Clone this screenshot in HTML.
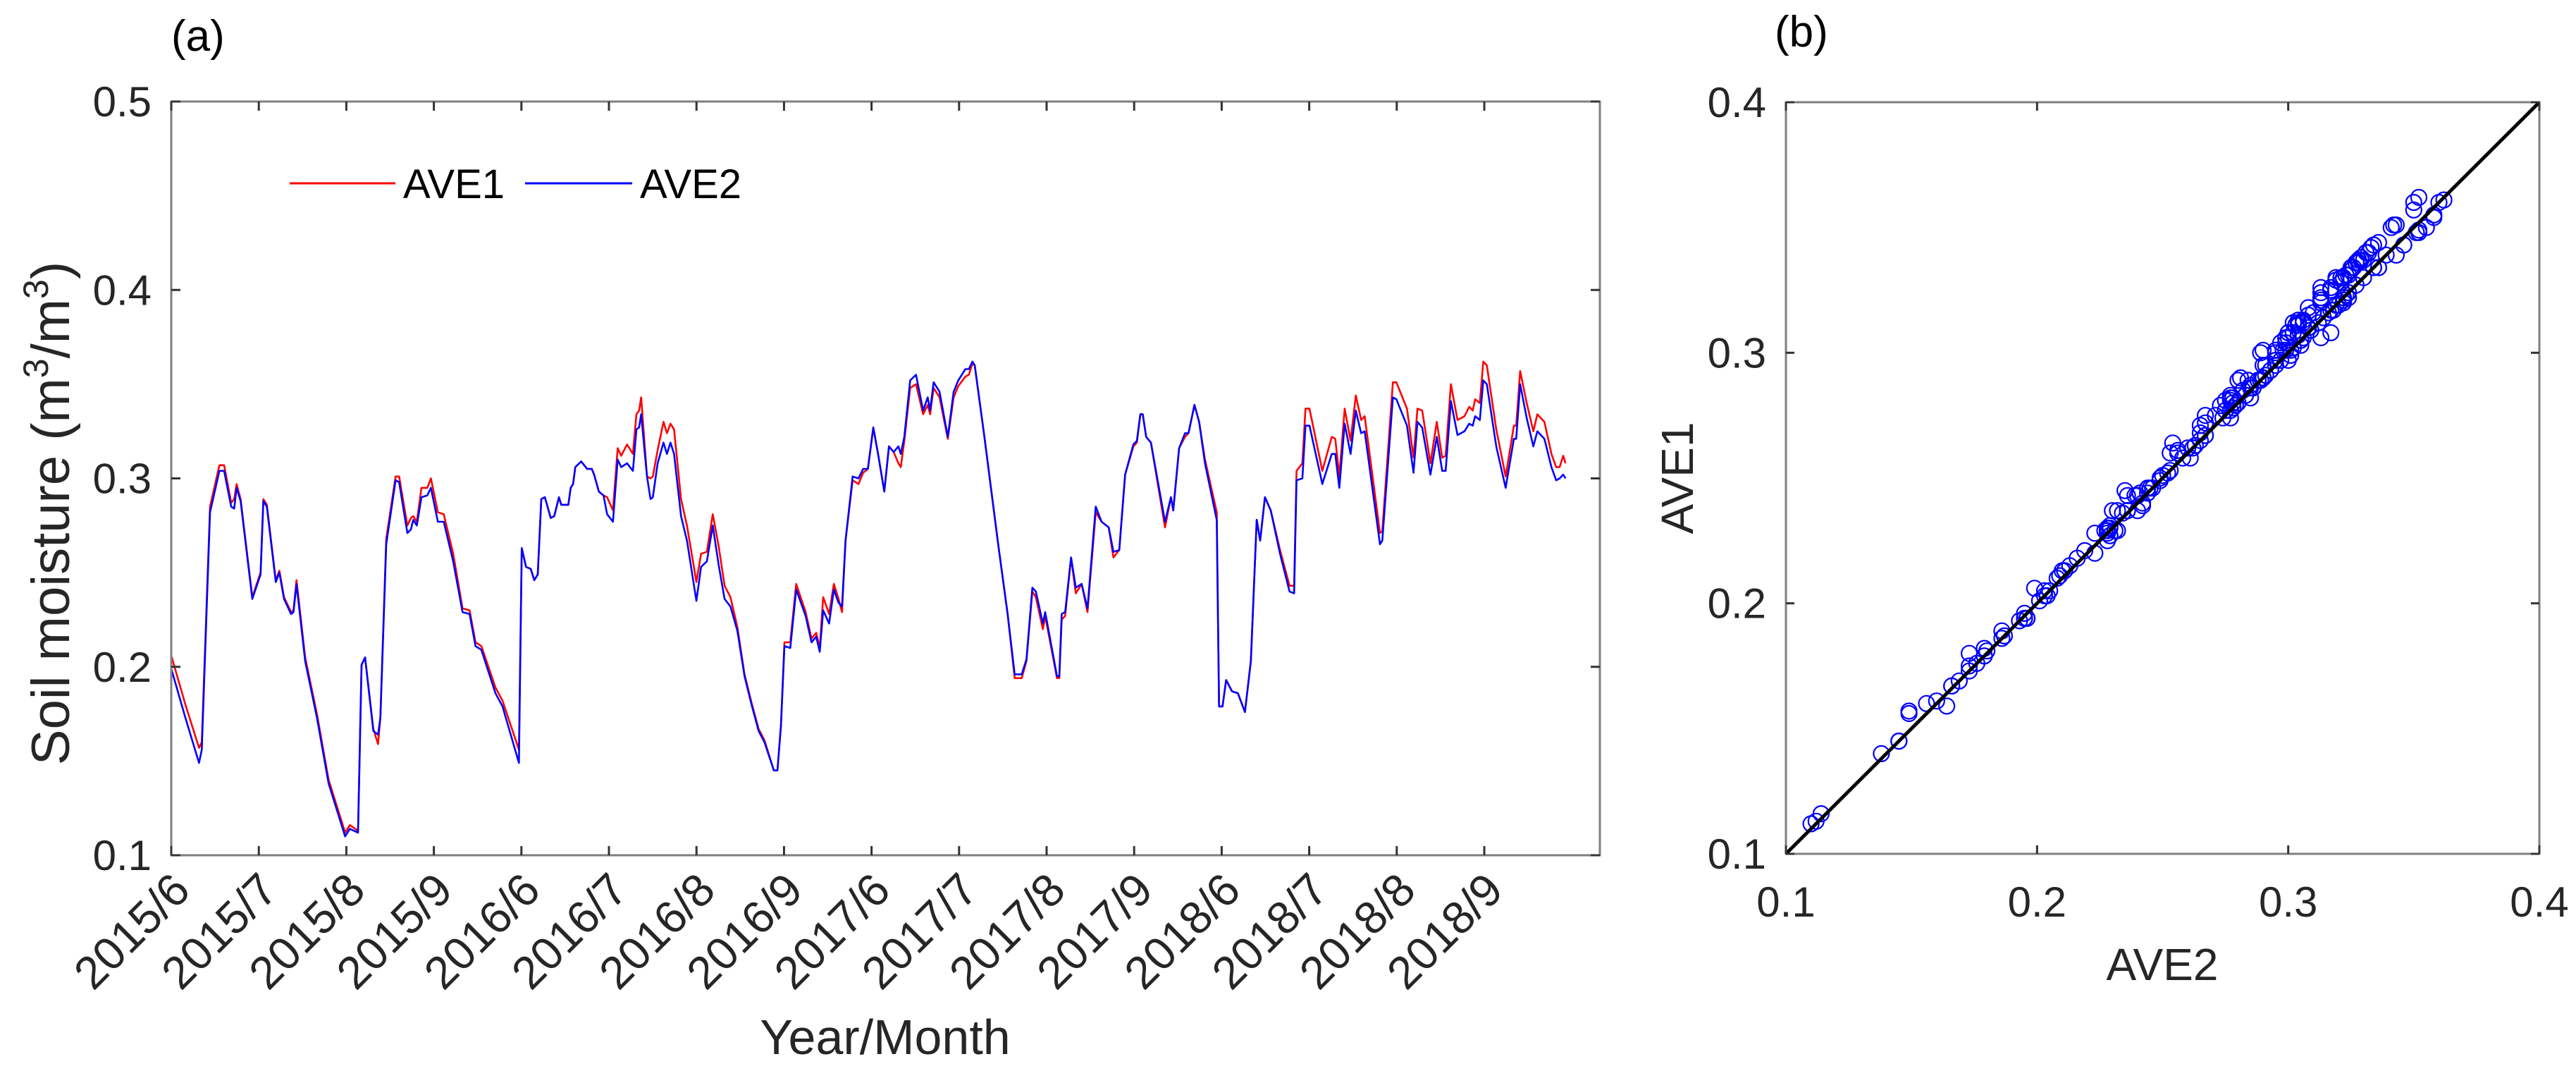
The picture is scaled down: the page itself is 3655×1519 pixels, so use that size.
<!DOCTYPE html>
<html><head><meta charset="utf-8"><style>
html,body{margin:0;padding:0;background:#fff;}
svg{display:block;font-family:"Liberation Sans",Arial,sans-serif;}
</style></head><body>
<svg id="fig" width="3655" height="1519" viewBox="0 0 3655 1519" xmlns="http://www.w3.org/2000/svg">
<rect x="0" y="0" width="3655" height="1519" fill="#fff"/>
<text x="243" y="72" font-size="62" fill="#000">(a)</text>
<text x="2518" y="66" font-size="62" fill="#000">(b)</text>
<g id="pa"></g>
<g id="pb"></g>
</svg>
<script>
const monthLabels = ["2015/6","2015/7","2015/8","2015/9","2016/6","2016/7","2016/8","2016/9","2017/6","2017/7","2017/8","2017/9","2018/6","2018/7","2018/8","2018/9"];
const yTicksA = [0.1,0.2,0.3,0.4,0.5];
const ticksB = [0.1,0.2,0.3,0.4];
const t = [0.000,0.161,0.317,0.349,0.443,0.550,0.604,0.684,0.719,0.746,0.792,0.926,1.020,1.052,1.092,1.194,1.235,1.288,1.369,1.396,1.431,1.530,1.664,1.798,1.986,2.040,2.134,2.174,2.214,2.308,2.362,2.389,2.456,2.563,2.603,2.697,2.738,2.764,2.805,2.858,2.925,2.966,3.046,3.113,3.221,3.328,3.408,3.476,3.543,3.704,3.784,3.972,4.004,4.053,4.106,4.147,
4.187,4.227,4.268,4.335,4.375,4.429,4.455,4.536,4.563,4.590,4.616,4.683,4.751,4.804,4.831,4.885,4.938,4.979,5.046,5.100,5.140,5.207,5.274,5.314,5.345,5.368,5.435,5.475,5.502,5.556,5.623,5.663,5.703,5.744,5.824,5.891,5.999,6.052,6.119,6.186,6.254,6.321,6.388,6.468,6.549,6.629,6.710,6.777,6.884,6.925,6.965,7.005,7.072,7.139,7.247,7.314,7.368,7.408,7.448,7.515,7.569,7.623,7.663,7.703,7.784,7.851,7.904,7.958,8.020,8.078,8.146,8.199,8.253,8.307,8.334,
8.374,8.441,8.508,8.589,8.642,8.669,8.709,8.777,8.871,8.938,8.991,9.072,9.112,9.152,9.179,9.287,9.447,9.555,9.635,9.716,9.770,9.837,9.877,9.957,9.984,10.118,10.145,10.172,10.212,10.279,10.333,10.400,10.467,10.561,10.628,10.709,10.763,10.830,10.897,10.991,11.031,11.071,11.098,11.138,11.192,11.353,11.420,11.447,11.514,11.581,11.621,11.689,11.742,11.809,11.944,11.970,12.010,12.051,12.118,12.185,12.266,12.333,12.400,12.440,12.494,
12.560,12.667,12.775,12.828,12.855,12.922,12.957,13.003,13.150,13.258,13.298,13.344,13.405,13.473,13.532,13.593,13.634,13.808,13.835,13.956,13.996,14.117,14.192,14.237,14.291,14.385,14.457,14.519,14.559,14.618,14.694,14.774,14.828,14.868,14.895,14.949,14.989,15.029,15.137,15.244,15.338,15.365,15.410,15.485,15.560,15.606,15.687,15.767,15.821,15.861,15.902,15.928];
const ave2 = [.199,.173,.149,.156,.282,.304,.304,.285,.284,.295,.288,.236,.249,.288,.285,.245,.250,.236,.228,.229,.244,.203,.173,.138,.110,.114,.112,.201,.205,.166,.164,.173,.265,.299,.298,.271,.273,.278,.275,.290,.291,.295,.277,.277,.256,.229,.228,.211,.209,.186,.179,.149,.263,.253,.252,.246,
.249,.289,.290,.279,.280,.290,.286,.286,.295,.297,.306,.309,.305,.305,.302,.293,.291,.281,.277,.310,.306,.308,.304,.326,.327,.334,.301,.289,.290,.308,.319,.313,.319,.313,.280,.267,.235,.253,.256,.275,.254,.236,.232,.219,.195,.180,.166,.160,.145,.145,.169,.211,.210,.241,.227,.213,.216,.208,.230,.223,.241,.234,.232,.267,.301,.300,.305,.305,.327,.312,.293,.317,.314,.317,.313,
.322,.352,.355,.336,.343,.336,.351,.346,.322,.346,.352,.358,.358,.362,.360,.323,.265,.228,.196,.196,.204,.242,.240,.223,.229,.195,.195,.228,.229,.258,.242,.244,.231,.285,.277,.274,.261,.262,.302,.318,.320,.334,.334,.322,.319,.277,.290,.283,.316,.324,.324,.339,.330,.308,.278,.179,.179,.193,.187,.186,.176,.203,.278,.267,.290,
.283,.260,.240,.239,.299,.300,.328,.328,.297,.313,.313,.295,.329,.313,.336,.324,.325,.265,.267,.343,.342,.328,.303,.330,.327,.302,.322,.304,.304,.341,.323,.325,.329,.328,.333,.331,.352,.350,.317,.295,.321,.321,.350,.332,.317,.325,.321,.306,.299,.300,.302,.300];
const ave1 = [.206,.180,.157,.160,.285,.307,.307,.287,.289,.297,.289,.237,.250,.289,.286,.246,.251,.237,.229,.230,.246,.205,.175,.140,.112,.116,.113,.201,.205,.167,.159,.173,.268,.301,.301,.275,.279,.280,.277,.295,.295,.300,.282,.281,.260,.231,.230,.213,.211,.189,.182,.156,.263,.253,.252,.246,
.249,.289,.290,.279,.280,.290,.286,.286,.295,.297,.306,.309,.305,.305,.302,.293,.291,.290,.283,.316,.312,.318,.313,.334,.336,.343,.301,.300,.301,.315,.330,.324,.329,.326,.289,.275,.245,.260,.261,.281,.264,.243,.237,.221,.196,.181,.167,.161,.145,.145,.169,.213,.213,.244,.229,.215,.218,.210,.237,.228,.244,.236,.229,.267,.299,.297,.303,.305,.327,.312,.293,.317,.314,.308,.306,
.320,.348,.350,.334,.339,.334,.348,.343,.321,.343,.349,.354,.355,.361,.360,.323,.265,.228,.194,.194,.203,.240,.237,.220,.227,.194,.194,.225,.227,.258,.239,.244,.229,.282,.277,.274,.258,.262,.302,.317,.319,.334,.334,.322,.319,.274,.290,.283,.316,.322,.324,.339,.330,.310,.282,.179,.179,.193,.187,.186,.176,.203,.278,.267,.290,
.283,.262,.243,.243,.304,.308,.337,.337,.304,.322,.321,.301,.337,.320,.344,.331,.333,.271,.272,.351,.351,.337,.311,.337,.336,.308,.330,.311,.312,.350,.331,.333,.338,.336,.342,.340,.362,.360,.326,.301,.328,.328,.357,.340,.325,.334,.330,.313,.306,.306,.312,.308];

const NS = "http://www.w3.org/2000/svg";
function mk(tag, attrs, parent){const e=document.createElementNS(NS,tag);for(const k in attrs)e.setAttribute(k,attrs[k]);parent.appendChild(e);return e;}
const pa=document.getElementById('pa'), pb=document.getElementById('pb');
const AX={l:243,r:2270,t:144,b:1213};
const xA=m=>AX.l+m*124.2;
const yA=v=>AX.b-(v-0.1)/0.4*(AX.b-AX.t);
const axisCol="#7f7f7f", txtCol="#262626";

function seriesPath(vals){return vals.map((v,i)=>(i?'L':'M')+xA(t[i]).toFixed(1)+' '+yA(v).toFixed(1)).join(' ');}
const pR=mk('path',{d:seriesPath(ave1),fill:'none',stroke:'#ff0000','stroke-width':2.6,'stroke-linejoin':'round'},pa);


const pBl=mk('path',{d:seriesPath(ave2),fill:'none',stroke:'#0000ff','stroke-width':2.6,'stroke-linejoin':'round'},pa);



const boxA=mk('rect',{x:AX.l,y:AX.t,width:AX.r-AX.l,height:AX.b-AX.t,fill:'none',stroke:axisCol,'stroke-width':3},pa);


monthLabels.forEach((lab,i)=>{
  const x=xA(i);
  mk('line',{x1:x,y1:AX.b,x2:x,y2:AX.b-13,stroke:'#333','stroke-width':3},pa);
  mk('line',{x1:x,y1:AX.t,x2:x,y2:AX.t+13,stroke:'#333','stroke-width':3},pa);
  const tx=mk('text',{x:x+30,y:1266,'text-anchor':'end','font-size':65,fill:txtCol,transform:`rotate(-45 ${x+30} 1266)`},pa);
  tx.textContent=lab;
  
  
});
yTicksA.forEach(v=>{
  const y=yA(v);
  mk('line',{x1:AX.l,y1:y,x2:AX.l+13,y2:y,stroke:'#333','stroke-width':3},pa);
  mk('line',{x1:AX.r,y1:y,x2:AX.r-13,y2:y,stroke:'#333','stroke-width':3},pa);
  const tx=mk('text',{x:215,y:y+21,'text-anchor':'end','font-size':60,fill:txtCol},pa);
  tx.textContent=v.toFixed(1);
  
  
});
</script>
<script>
(function(){
const pa=document.getElementById('pa');
pa.insertAdjacentHTML('beforeend',
`<text x="1256" y="1495" text-anchor="middle" font-size="70" fill="#262626">Year/Month</text>
<text transform="translate(98 728) rotate(-90)" text-anchor="middle" font-size="76" fill="#262626">Soil moisture (m<tspan font-size="50" dy="-30">3</tspan><tspan dy="30">/m</tspan><tspan font-size="50" dy="-30">3</tspan><tspan dy="30">)</tspan></text>
<g>
<line x1="411" y1="260" x2="561" y2="260" stroke="#ff0000" stroke-width="3"/>
<text x="572" y="281" font-size="58" fill="#000">AVE1</text>
<line x1="745" y1="260" x2="897" y2="260" stroke="#0000ff" stroke-width="3"/>
<text x="908" y="281" font-size="58" fill="#000">AVE2</text>
</g>`);
})();
</script>
<script>
(function(){
const NS="http://www.w3.org/2000/svg";
function mk(tag, attrs, parent){const e=document.createElementNS(NS,tag);for(const k in attrs)e.setAttribute(k,attrs[k]);parent.appendChild(e);return e;}
const pb=document.getElementById('pb');
const B={l:2534,r:3603,t:145,b:1211};
const xB=v=>B.l+(v-0.1)/0.3*(B.r-B.l);
const yB=v=>B.b-(v-0.1)/0.3*(B.b-B.t);
ave2.forEach((v,i)=>{
  const c=mk('circle',{cx:xB(v).toFixed(1),cy:yB(ave1[i]).toFixed(1),r:11,fill:'none',stroke:'#0000ff','stroke-width':2.2},pb);
  
  
});
const ln=mk('line',{x1:xB(0.1),y1:yB(0.1),x2:xB(0.4),y2:yB(0.4),stroke:'#000','stroke-width':5},pb);


const bx=mk('rect',{x:B.l,y:B.t,width:B.r-B.l,height:B.b-B.t,fill:'none',stroke:'#7f7f7f','stroke-width':3},pb);


ticksB.forEach(v=>{
  const x=xB(v), y=yB(v);
  mk('line',{x1:x,y1:B.b,x2:x,y2:B.b-12,stroke:'#333','stroke-width':3},pb);
  mk('line',{x1:x,y1:B.t,x2:x,y2:B.t+12,stroke:'#333','stroke-width':3},pb);
  mk('line',{x1:B.l,y1:y,x2:B.l+12,y2:y,stroke:'#333','stroke-width':3},pb);
  mk('line',{x1:B.r,y1:y,x2:B.r-12,y2:y,stroke:'#333','stroke-width':3},pb);
  const tx=mk('text',{x:x,y:1300,'text-anchor':'middle','font-size':60,fill:'#262626'},pb);
  tx.textContent=v.toFixed(1);
  
  
  const ty=mk('text',{x:2506,y:y+21,'text-anchor':'end','font-size':60,fill:'#262626'},pb);
  ty.textContent=v.toFixed(1);
  
  
});
pb.insertAdjacentHTML('beforeend',
`<text x="3068" y="1390" text-anchor="middle" font-size="64" fill="#262626">AVE2</text>
<text transform="translate(2402 678) rotate(-90)" text-anchor="middle" font-size="64" fill="#262626">AVE1</text>`);
})();
</script>
</body></html>
